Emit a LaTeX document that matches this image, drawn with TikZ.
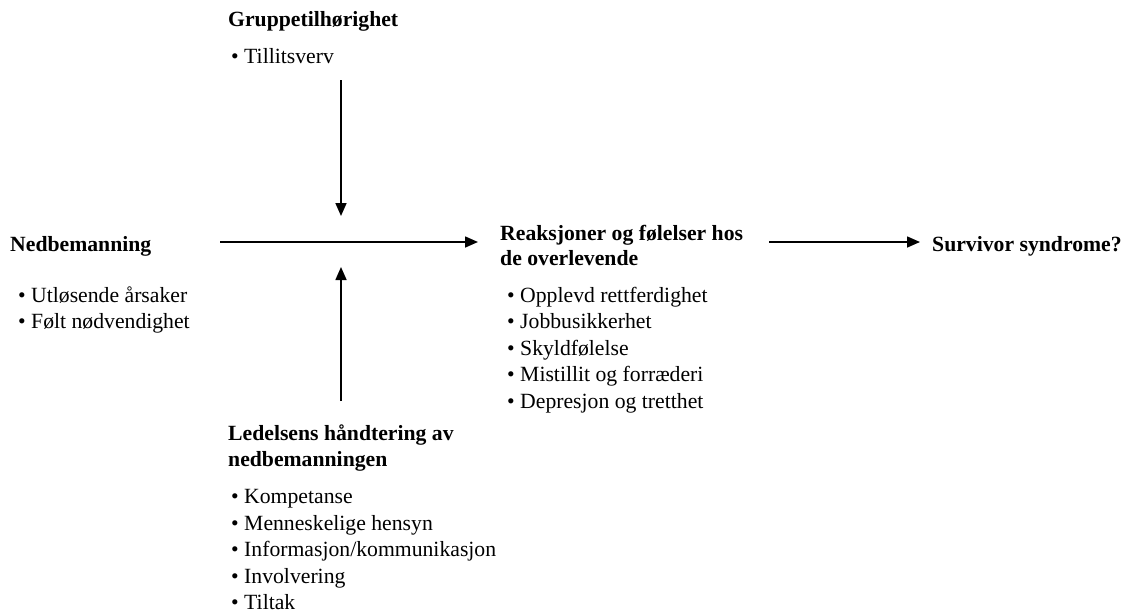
\documentclass[tikz,border=0pt]{standalone}
\usepackage{fontspec}
\setmainfont{Liberation Serif}
\usetikzlibrary{arrows.meta}
\tikzset{
  txt/.style={anchor=base west, inner sep=0pt, font=\fontsize{21.7}{26}\selectfont},
  ttl/.style={txt, font=\fontsize{21.7}{26}\selectfont\bfseries},
  arr/.style={line width=1.6pt, -{Triangle[length=13pt,width=11pt]}}
}
\begin{document}
\begin{tikzpicture}[x=1pt,y=-1pt]
\useasboundingbox[fill=white] (0,0) rectangle (1136,614);
% Gruppetilhørighet
\node[ttl] (g) at (228,26) {Gruppetilhørighet};
\node[txt] (g1) at (231,63) {• Tillitsverv};
% Nedbemanning
\node[ttl] (n) at (10,251) {Nedbemanning};
\node[txt] (n1) at (18,302) {• Utløsende årsaker};
\node[txt] (n2) at (18,328) {• Følt nødvendighet};
% Reaksjoner
\node[ttl] (r) at (500,240) {Reaksjoner og følelser hos};
\node[ttl] (r0) at (500,265) {de overlevende};
\node[txt] (r1) at (507,302) {• Opplevd rettferdighet};
\node[txt] (r2) at (507,328) {• Jobbusikkerhet};
\node[txt] (r3) at (507,355) {• Skyldfølelse};
\node[txt] (r4) at (507,381) {• Mistillit og forræderi};
\node[txt] (r5) at (507,408) {• Depresjon og tretthet};
% Survivor
\node[ttl] (s) at (932,251) {Survivor syndrome?};
% Ledelsens
\node[ttl] (l) at (228,440) {Ledelsens håndtering av};
\node[ttl] (l0) at (228,466) {nedbemanningen};
\node[txt] (l1) at (231,503) {• Kompetanse};
\node[txt] (l2) at (231,530) {• Menneskelige hensyn};
\node[txt] (l3) at (231,556) {• Informasjon/kommunikasjon};
\node[txt] (l4) at (231,583) {• Involvering};
\node[txt] (l5) at (231,609) {• Tiltak};
% connector ends
\coordinate (dS) at (341,80);
\coordinate (dE) at (341,216);
\coordinate (uS) at (341,401);
\coordinate (uE) at (341,267);
\coordinate (hS) at (220,242);
\coordinate (hE) at (478,242);
\coordinate (h2S) at (769,242);
\coordinate (h2E) at (920,242);
\draw[arr] (dS) -- (dE);
\draw[arr] (uS) -- (uE);
\draw[arr] (hS) -- (hE);
\draw[arr] (h2S) -- (h2E);
\end{tikzpicture}
\end{document}
